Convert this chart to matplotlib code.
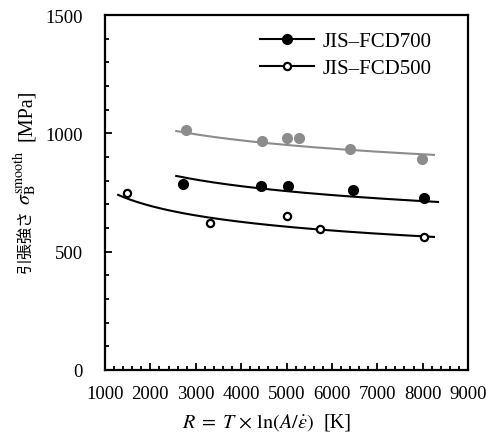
import matplotlib

matplotlib.use("Agg")
import matplotlib.pyplot as plt
import numpy as np
from matplotlib.ticker import MultipleLocator

# measured points
gray_x = [2790, 4450, 5000, 5270, 6410, 7980]
gray_y = [1015, 967, 980, 980, 934, 892]
fcd700_x = [2720, 4430, 5040, 6460, 8030]
fcd700_y = [786, 778, 778, 761, 727]
fcd500_x = [1490, 3320, 5000, 5730, 8030]
fcd500_y = [748, 621, 650, 596, 562]

# model curves sigma = a * R**b, drawn over [r_lo, r_hi]
curve_a = {"gray": 2052, "fcd700": 2142, "fcd500": 2136}
curve_b = {"gray": -0.0903, "fcd700": -0.1223, "fcd500": -0.148}
curve_lo = {"gray": 2570, "fcd700": 2570, "fcd500": 1290}
curve_hi = {"gray": 8250, "fcd700": 8340, "fcd500": 8250}

GRAY = "#8c8c8c"
SERIF = "Liberation Serif"
CJK = "Noto Sans CJK JP"
FS = 13.5
FS_CJK = 11.5

plt.rcParams["font.family"] = [SERIF, CJK]
plt.rcParams["mathtext.fontset"] = "stix"
plt.rcParams["font.size"] = FS

W, H = 486, 435
fig = plt.figure(figsize=(W / 100, H / 100), dpi=100)
ax = fig.add_axes([105 / W, 1 - 371 / H, (468 - 105) / W, (371 - 16) / H])


def model(key):
    r = np.linspace(curve_lo[key], curve_hi[key], 200)
    return r, curve_a[key] * r ** curve_b[key]


r, s = model("gray")
ax.plot(r, s, color=GRAY, lw=1.5, zorder=2)
r, s = model("fcd700")
ax.plot(r, s, color="black", lw=1.5, zorder=2)
r, s = model("fcd500")
ax.plot(r, s, color="black", lw=1.5, zorder=2)

ax.plot(gray_x, gray_y, "o", color=GRAY, ms=7, mec=GRAY, zorder=3)
ax.plot(fcd700_x, fcd700_y, "o", color="black", ms=7, zorder=3)
ax.plot(fcd500_x, fcd500_y, "o", mfc="white", mec="black", ms=5.2, mew=1.6, zorder=3)

# legend handles (line + marker)
ax.plot([], [], "-o", color="black", lw=1.5, ms=7, label="JIS–FCD700")
ax.plot([], [], "-o", color="black", mfc="white", lw=1.5, ms=5.2, mew=1.6, label="JIS–FCD500")
ax.legend(loc="upper right", bbox_to_anchor=(0.939, 0.995), frameon=False,
          handlelength=2.6, handletextpad=0.4, borderaxespad=0.3,
          labelspacing=0.35, fontsize=15)

ax.set_xlim(1000, 9000)
ax.set_ylim(0, 1500)
ax.xaxis.set_major_locator(MultipleLocator(1000))
ax.xaxis.set_minor_locator(MultipleLocator(200))
ax.yaxis.set_major_locator(MultipleLocator(500))
ax.yaxis.set_minor_locator(MultipleLocator(100))
ax.tick_params(which="both", direction="in", width=1.3)
ax.tick_params(which="major", length=5)
ax.tick_params(which="minor", length=3)
ax.tick_params(axis="x", pad=11)
ax.tick_params(axis="y", pad=16)
for sp in ax.spines.values():
    sp.set_linewidth(1.6)

# axis labels built from pieces so CJK and mathtext each get their own font
renderer = fig.canvas.get_renderer()


def px(x, y):
    return x / W, 1 - y / H


x = 182
for txt, fam, size, gap in [
    (r"$R\;=\;T\,\times\,\ln(A/\dot{\varepsilon})$", SERIF, 14.5, 10),
    ("[K]", SERIF, 14.5, 0),
]:
    t = fig.text(*px(x, 428), txt, family=fam, fontsize=size, ha="left", va="baseline")
    x = t.get_window_extent(renderer).x1 + gap

y = 273
for txt, fam, size, gap in [
    ("引張強さ", CJK, FS_CJK, 4),
    (r"$\sigma_{\mathrm{B}}^{\mathrm{smooth}}$", SERIF, 14.5, 9),
    ("[MPa]", SERIF, 14.5, 0),
]:
    t = fig.text(*px(31, y), txt, family=fam, fontsize=size,
                 rotation=90, rotation_mode="anchor", ha="left", va="baseline")
    bb = t.get_window_extent(renderer)
    y = H - bb.y1 - gap

fig.savefig("out.png", dpi=100)
